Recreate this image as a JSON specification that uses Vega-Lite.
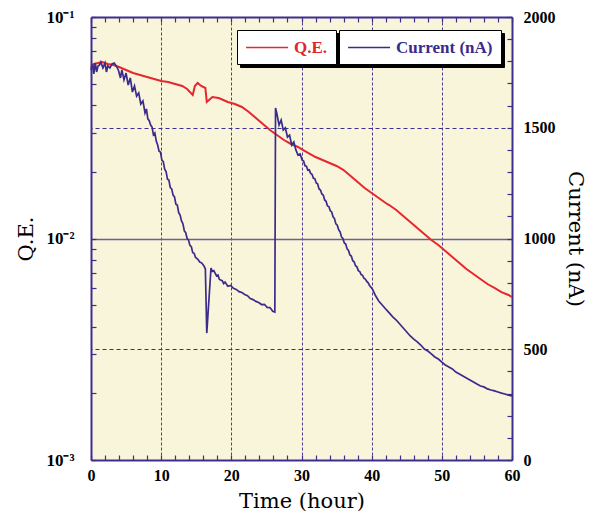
{
  "$schema": "https://vega.github.io/schema/vega-lite/v6.json",
  "width": 421,
  "height": 443,
  "autosize": "none",
  "padding": {"left": 91, "top": 17, "right": 84, "bottom": 55},
  "background": "white",
  "config": {
    "view": {"fill": "#f8f5da", "stroke": null},
    "font": "Liberation Serif",
    "axis": {"labelFlush": false, "labelOverlap": false, "labelBound": false}
  },
  "datasets": {
    "qe": [
      {"t": 0, "qe": 0.05947}, {"t": 0.4, "qe": 0.06135}, {"t": 1, "qe": 0.06199}, {"t": 1.6, "qe": 0.06264},
      {"t": 2.4, "qe": 0.06135}, {"t": 3.2, "qe": 0.06072}, {"t": 4, "qe": 0.05947}, {"t": 5, "qe": 0.05764},
      {"t": 6, "qe": 0.05587}, {"t": 7, "qe": 0.05472}, {"t": 8, "qe": 0.0536}, {"t": 9, "qe": 0.05249},
      {"t": 10, "qe": 0.05141}, {"t": 11, "qe": 0.05088}, {"t": 12, "qe": 0.04983}, {"t": 13, "qe": 0.04881},
      {"t": 13.7, "qe": 0.04731}, {"t": 14.5, "qe": 0.0445}, {"t": 14.8, "qe": 0.0488}, {"t": 15.2, "qe": 0.05036},
      {"t": 15.7, "qe": 0.0488}, {"t": 16.3, "qe": 0.0478}, {"t": 16.5, "qe": 0.04133}, {"t": 17.3, "qe": 0.04354},
      {"t": 18.2, "qe": 0.0431}, {"t": 19.5, "qe": 0.04133}, {"t": 20.5, "qe": 0.04048}, {"t": 21.5, "qe": 0.03924},
      {"t": 22.5, "qe": 0.03725}, {"t": 23.5, "qe": 0.03499}, {"t": 24.5, "qe": 0.03288}, {"t": 25.5, "qe": 0.03089},
      {"t": 26.5, "qe": 0.02933}, {"t": 27.5, "qe": 0.02784}, {"t": 28.5, "qe": 0.02671}, {"t": 29.5, "qe": 0.02589},
      {"t": 30, "qe": 0.02535}, {"t": 31, "qe": 0.02432}, {"t": 32, "qe": 0.02333}, {"t": 33, "qe": 0.02261},
      {"t": 34, "qe": 0.02192}, {"t": 35, "qe": 0.02125}, {"t": 36, "qe": 0.02038}, {"t": 37, "qe": 0.01915},
      {"t": 38, "qe": 0.01799}, {"t": 39, "qe": 0.0169}, {"t": 40, "qe": 0.01605}, {"t": 41, "qe": 0.01524},
      {"t": 42, "qe": 0.01446}, {"t": 42.5, "qe": 0.01416}, {"t": 43.5, "qe": 0.01345}, {"t": 44.5, "qe": 0.01263},
      {"t": 45.5, "qe": 0.01187}, {"t": 46.5, "qe": 0.01115}, {"t": 47.5, "qe": 0.01048}, {"t": 48.5, "qe": 0.00985},
      {"t": 49.5, "qe": 0.00935}, {"t": 50.5, "qe": 0.00878}, {"t": 51.5, "qe": 0.00825}, {"t": 52.5, "qe": 0.00775},
      {"t": 53.5, "qe": 0.00728}, {"t": 54.5, "qe": 0.00691}, {"t": 55.5, "qe": 0.00656}, {"t": 56.5, "qe": 0.00623},
      {"t": 57.5, "qe": 0.00598}, {"t": 58.5, "qe": 0.00573}, {"t": 59.5, "qe": 0.00556}, {"t": 60, "qe": 0.00544}
    ],
    "cur": [
      {"t": 0, "c": 1761}, {"t": 0.2, "c": 1788}, {"t": 0.4, "c": 1743}, {"t": 0.6, "c": 1792}, {"t": 0.8, "c": 1752},
      {"t": 1.0, "c": 1779}, {"t": 1.2, "c": 1783}, {"t": 1.4, "c": 1797}, {"t": 1.7, "c": 1770}, {"t": 2.0, "c": 1792},
      {"t": 2.2, "c": 1752}, {"t": 2.4, "c": 1779}, {"t": 2.7, "c": 1770}, {"t": 3.0, "c": 1788}, {"t": 3.3, "c": 1792},
      {"t": 3.6, "c": 1779}, {"t": 3.9, "c": 1761}, {"t": 4.2, "c": 1725}, {"t": 4.4, "c": 1761}, {"t": 4.7, "c": 1716},
      {"t": 5.0, "c": 1747}, {"t": 5.3, "c": 1693}, {"t": 5.6, "c": 1725}, {"t": 5.9, "c": 1661}, {"t": 6.2, "c": 1689},
      {"t": 6.5, "c": 1643}, {"t": 6.8, "c": 1657}, {"t": 7.1, "c": 1607}, {"t": 7.4, "c": 1621}, {"t": 7.7, "c": 1567},
      {"t": 7.9, "c": 1585}, {"t": 8.1, "c": 1540}, {"t": 8.3, "c": 1532}, {"t": 8.5, "c": 1512}, {"t": 8.7, "c": 1503},
      {"t": 8.9, "c": 1468}, {"t": 9.1, "c": 1476}, {"t": 9.3, "c": 1440}, {"t": 9.5, "c": 1422}, {"t": 9.7, "c": 1394},
      {"t": 9.9, "c": 1390}, {"t": 10.1, "c": 1354}, {"t": 10.3, "c": 1347}, {"t": 10.5, "c": 1313}, {"t": 10.7, "c": 1302},
      {"t": 10.9, "c": 1268}, {"t": 11.1, "c": 1264}, {"t": 11.3, "c": 1230}, {"t": 11.5, "c": 1224}, {"t": 11.7, "c": 1196},
      {"t": 11.9, "c": 1188}, {"t": 12.1, "c": 1155}, {"t": 12.3, "c": 1151}, {"t": 12.5, "c": 1117}, {"t": 12.7, "c": 1106},
      {"t": 12.9, "c": 1079}, {"t": 13.1, "c": 1067}, {"t": 13.3, "c": 1034}, {"t": 13.5, "c": 1026}, {"t": 13.7, "c": 1000},
      {"t": 13.9, "c": 993}, {"t": 14.1, "c": 969}, {"t": 14.3, "c": 963}, {"t": 14.5, "c": 936}, {"t": 14.7, "c": 933},
      {"t": 14.9, "c": 914}, {"t": 15.2, "c": 907}, {"t": 15.5, "c": 894}, {"t": 15.8, "c": 889}, {"t": 16.1, "c": 876},
      {"t": 16.3, "c": 862}, {"t": 16.5, "c": 573}, {"t": 17.1, "c": 867}, {"t": 17.3, "c": 852}, {"t": 17.5, "c": 855},
      {"t": 17.9, "c": 831}, {"t": 18.1, "c": 835}, {"t": 18.3, "c": 815}, {"t": 18.7, "c": 810}, {"t": 18.9, "c": 797},
      {"t": 19.1, "c": 803}, {"t": 19.5, "c": 784}, {"t": 19.9, "c": 788}, {"t": 20.3, "c": 775}, {"t": 20.7, "c": 770},
      {"t": 21.1, "c": 760}, {"t": 21.5, "c": 756}, {"t": 21.9, "c": 747}, {"t": 22.3, "c": 742}, {"t": 22.7, "c": 729},
      {"t": 23.1, "c": 724}, {"t": 23.5, "c": 716}, {"t": 23.9, "c": 711}, {"t": 24.3, "c": 702}, {"t": 24.7, "c": 703},
      {"t": 25.1, "c": 689}, {"t": 25.5, "c": 688}, {"t": 25.9, "c": 671}, {"t": 26.2, "c": 668}, {"t": 26.3, "c": 1589},
      {"t": 26.5, "c": 1562}, {"t": 26.8, "c": 1512}, {"t": 27.1, "c": 1535}, {"t": 27.4, "c": 1490}, {"t": 27.7, "c": 1499},
      {"t": 28.0, "c": 1458}, {"t": 28.3, "c": 1467}, {"t": 28.6, "c": 1422}, {"t": 28.9, "c": 1436}, {"t": 29.2, "c": 1400},
      {"t": 29.5, "c": 1377}, {"t": 29.8, "c": 1382}, {"t": 30.1, "c": 1354}, {"t": 30.3, "c": 1350}, {"t": 30.5, "c": 1328},
      {"t": 30.7, "c": 1326}, {"t": 30.9, "c": 1308}, {"t": 31.1, "c": 1310}, {"t": 31.3, "c": 1294}, {"t": 31.5, "c": 1290},
      {"t": 31.7, "c": 1272}, {"t": 31.9, "c": 1270}, {"t": 32.1, "c": 1251}, {"t": 32.3, "c": 1247}, {"t": 32.5, "c": 1224},
      {"t": 32.7, "c": 1219}, {"t": 32.9, "c": 1201}, {"t": 33.1, "c": 1196}, {"t": 33.3, "c": 1174}, {"t": 33.5, "c": 1168},
      {"t": 33.7, "c": 1147}, {"t": 33.9, "c": 1144}, {"t": 34.1, "c": 1125}, {"t": 34.3, "c": 1120}, {"t": 34.5, "c": 1098},
      {"t": 34.7, "c": 1090}, {"t": 34.9, "c": 1066}, {"t": 35.1, "c": 1060}, {"t": 35.3, "c": 1039}, {"t": 35.5, "c": 1030},
      {"t": 35.7, "c": 1007}, {"t": 35.9, "c": 1000}, {"t": 36.1, "c": 980}, {"t": 36.3, "c": 975}, {"t": 36.5, "c": 953},
      {"t": 36.7, "c": 946}, {"t": 36.9, "c": 926}, {"t": 37.1, "c": 921}, {"t": 37.3, "c": 900}, {"t": 37.5, "c": 895},
      {"t": 37.7, "c": 877}, {"t": 37.9, "c": 872}, {"t": 38.1, "c": 855}, {"t": 38.3, "c": 851}, {"t": 38.5, "c": 837},
      {"t": 38.7, "c": 834}, {"t": 38.9, "c": 820}, {"t": 39.1, "c": 817}, {"t": 39.3, "c": 806}, {"t": 39.5, "c": 800},
      {"t": 39.7, "c": 788}, {"t": 40.1, "c": 772}, {"t": 40.5, "c": 745}, {"t": 41.0, "c": 718},
      {"t": 41.5, "c": 700}, {"t": 42.0, "c": 682}, {"t": 42.5, "c": 664}, {"t": 43.0, "c": 646}, {"t": 43.5, "c": 632},
      {"t": 44.0, "c": 614}, {"t": 44.5, "c": 596}, {"t": 45.0, "c": 578}, {"t": 45.5, "c": 560}, {"t": 46.0, "c": 546},
      {"t": 46.5, "c": 533}, {"t": 47.0, "c": 519}, {"t": 47.5, "c": 501}, {"t": 48.0, "c": 492}, {"t": 48.5, "c": 479},
      {"t": 49.0, "c": 465}, {"t": 49.5, "c": 456}, {"t": 50.0, "c": 442}, {"t": 50.5, "c": 429}, {"t": 51.0, "c": 420},
      {"t": 51.5, "c": 411}, {"t": 52.0, "c": 397}, {"t": 52.5, "c": 388}, {"t": 53.0, "c": 379}, {"t": 53.5, "c": 370},
      {"t": 54.0, "c": 361}, {"t": 54.5, "c": 352}, {"t": 55.0, "c": 343}, {"t": 55.5, "c": 334}, {"t": 56.0, "c": 330},
      {"t": 56.5, "c": 321}, {"t": 57.0, "c": 316}, {"t": 57.5, "c": 312}, {"t": 58.0, "c": 307}, {"t": 58.5, "c": 302},
      {"t": 59.0, "c": 298}, {"t": 59.5, "c": 293}, {"t": 60.0, "c": 289}
    ]
  },
  "layer": [
    {
      "data": {"name": "qe"},
      "mark": {"type": "line", "opacity": 0},
      "encoding": {
        "x": {"field": "t", "type": "quantitative", "scale": {"domain": [0, 60], "nice": false}, "axis": null},
        "y": {"field": "qe", "type": "quantitative", "scale": {"type": "log", "domain": [0.001, 0.1], "nice": false}, "axis": null},
        "color": {
          "datum": "Q.E.", "type": "nominal",
          "scale": {"domain": ["Q.E."], "range": ["black"]},
          "legend": {
            "orient": "none", "legendX": 149, "legendY": 16, "title": null,
            "symbolType": "M-1,0H4", "symbolSize": 282, "symbolStrokeWidth": 1.5,
            "labelExpr": "''", "labelFontSize": 17,
            "labelOffset": 67, "padding": 8, "fillColor": "black", "strokeColor": "black"
          }
        }
      }
    },
    {
      "data": {"name": "qe"},
      "mark": {"type": "line", "strokeWidth": 2},
      "encoding": {
        "x": {
          "field": "t", "type": "quantitative", "scale": {"domain": [0, 60], "nice": false},
          "axis": {
            "orient": "bottom",
            "values": [0,2,4,6,8,10,12,14,16,18,20,22,24,26,28,30,32,34,36,38,40,42,44,46,48,50,52,54,56,58,60],
            "labelExpr": "datum.value % 10 === 0 ? datum.label : ''",
            "tickSize": -5, "tickColor": "#3c2f8f", "tickWidth": 1.2,
            "domainColor": "#3c2f8f", "domainWidth": 2,
            "labelFont": "Liberation Serif", "labelFontSize": 16, "labelFontWeight": "bold", "labelColor": "black",
            "labelPadding": 12,
            "grid": true, "gridColor": "#4a3d92", "gridDash": [3, 2], "gridWidth": 1,
            "gridOpacity": {"condition": {"test": "datum.value % 10 === 0 && datum.value > 0 && datum.value < 60", "value": 1}, "value": 0},
            "title": "Time (hour)", "titleFont": "DejaVu Serif", "titleFontSize": 21, "titleFontWeight": "normal",
            "titleColor": "black", "titlePadding": 7
          }
        },
        "y": {
          "field": "qe", "type": "quantitative",
          "scale": {"type": "log", "domain": [0.001, 0.1], "nice": false},
          "axis": {
            "orient": "left",
            "values": [0.001,0.002,0.003,0.004,0.005,0.006,0.007,0.008,0.009,0.01,0.02,0.03,0.04,0.05,0.06,0.07,0.08,0.09,0.1],
            "labelExpr": "datum.value === 0.1 ? '10⁻¹' : datum.value === 0.01 ? '10⁻²' : datum.value === 0.001 ? '10⁻³' : ''",
            "tickSize": -5, "tickColor": "#3c2f8f", "tickWidth": 1.2,
            "domainColor": "#3c2f8f", "domainWidth": 2,
            "labelFont": "Liberation Serif", "labelFontSize": 17, "labelFontWeight": "bold", "labelColor": "black",
            "labelPadding": 22,
            "grid": true, "gridColor": "#6a6096", "gridWidth": 1.5,
            "gridOpacity": {"condition": {"test": "datum.value === 0.01", "value": 1}, "value": 0},
            "title": "Q.E.", "titleFont": "DejaVu Serif", "titleFontSize": 21, "titleFontWeight": "normal",
            "titleColor": "black", "titlePadding": 9
          }
        },
        "color": {
          "datum": "Q.E.", "type": "nominal",
          "scale": {"domain": ["Q.E."], "range": ["#e8262d"]},
          "legend": {
            "orient": "none", "legendX": 146, "legendY": 13, "title": null,
            "symbolType": "M-1,0H4", "symbolSize": 282, "symbolStrokeWidth": 1.5,
            "labelFont": "Liberation Serif", "labelFontSize": 17, "labelFontWeight": "bold", "labelColor": "#e0252b",
            "labelOffset": 30, "padding": 8, "fillColor": "white", "strokeColor": "black"
          }
        }
      }
    },
    {
      "data": {"name": "cur"},
      "mark": {"type": "line", "opacity": 0},
      "encoding": {
        "x": {"field": "t", "type": "quantitative", "scale": {"domain": [0, 60], "nice": false}, "axis": null},
        "y": {"field": "c", "type": "quantitative", "scale": {"domain": [0, 2000], "nice": false}, "axis": null},
        "color": {
          "datum": "Current (nA)", "type": "nominal",
          "scale": {"domain": ["Current (nA)"], "range": ["black"]},
          "legend": {
            "orient": "none", "legendX": 251, "legendY": 16, "title": null,
            "symbolType": "M-1,0H4", "symbolSize": 282, "symbolStrokeWidth": 1.5,
            "labelExpr": "''", "labelFontSize": 17,
            "labelOffset": 127, "padding": 8, "fillColor": "black", "strokeColor": "black"
          }
        }
      }
    },
    {
      "data": {"name": "cur"},
      "mark": {"type": "line", "strokeWidth": 1.7},
      "encoding": {
        "x": {
          "field": "t", "type": "quantitative", "scale": {"domain": [0, 60], "nice": false},
          "axis": {
            "orient": "top",
            "values": [0,2,4,6,8,10,12,14,16,18,20,22,24,26,28,30,32,34,36,38,40,42,44,46,48,50,52,54,56,58,60],
            "labels": false, "grid": false, "title": null,
            "tickSize": -5, "tickColor": "#3c2f8f", "tickWidth": 1.2,
            "domainColor": "#3c2f8f", "domainWidth": 2
          }
        },
        "y": {
          "field": "c", "type": "quantitative",
          "scale": {"domain": [0, 2000], "nice": false},
          "axis": {
            "orient": "right",
            "values": [0,100,200,300,400,500,600,700,800,900,1000,1100,1200,1300,1400,1500,1600,1700,1800,1900,2000],
            "labelExpr": "datum.value % 500 === 0 ? datum.value + '' : ''",
            "tickSize": -5, "tickColor": "#3c2f8f", "tickWidth": 1.2,
            "domainColor": "#3c2f8f", "domainWidth": 2,
            "labelFont": "Liberation Serif", "labelFontSize": 16, "labelFontWeight": "bold", "labelColor": "black",
            "labelPadding": 16,
            "grid": true, "gridColor": "#3c2f8f", "gridDash": [4, 3], "gridWidth": 1,
            "gridOpacity": {"condition": {"test": "datum.value === 500 || datum.value === 1500", "value": 1}, "value": 0},
            "title": "Current (nA)", "titleFont": "DejaVu Serif", "titleFontSize": 21, "titleFontWeight": "normal",
            "titleColor": "black", "titlePadding": 9
          }
        },
        "color": {
          "datum": "Current (nA)", "type": "nominal",
          "scale": {"domain": ["Current (nA)"], "range": ["#3a2b8c"]},
          "legend": {
            "orient": "none", "legendX": 248, "legendY": 13, "title": null,
            "symbolType": "M-1,0H4", "symbolSize": 282, "symbolStrokeWidth": 1.5,
            "labelFont": "Liberation Serif", "labelFontSize": 17, "labelFontWeight": "bold", "labelColor": "#3a2b8c",
            "labelOffset": 30, "padding": 8, "fillColor": "white", "strokeColor": "black"
          }
        }
      }
    }
  ],
  "resolve": {
    "scale": {"y": "independent", "color": "independent"},
    "axis": {"x": "independent", "y": "independent"}
  }
}
